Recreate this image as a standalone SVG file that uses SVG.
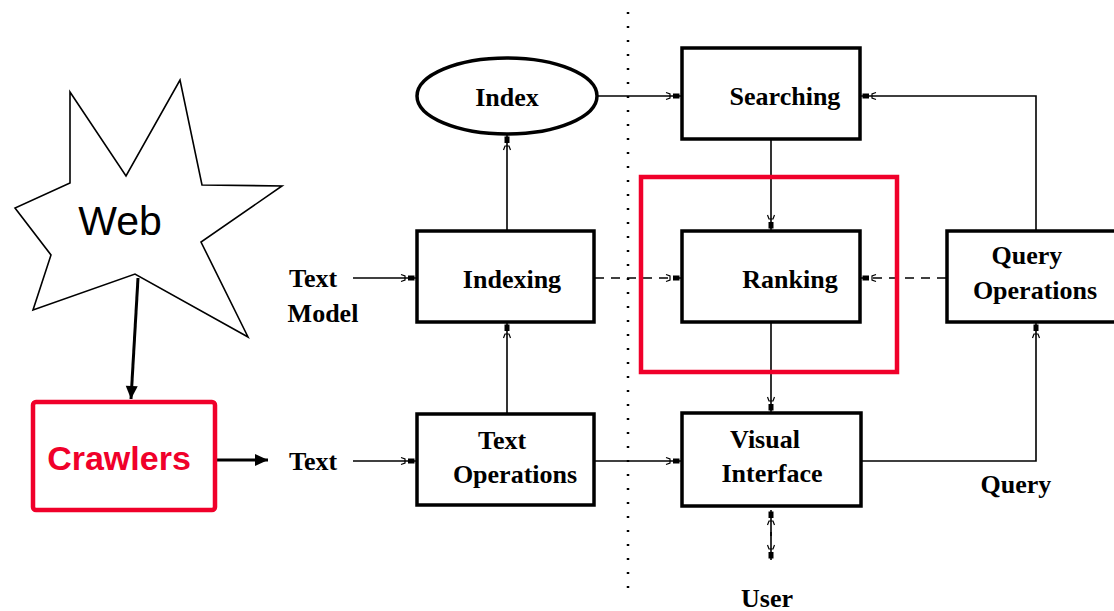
<svg xmlns="http://www.w3.org/2000/svg" width="1114" height="611" viewBox="0 0 1114 611">
<style>
.box{fill:#fff;stroke:#000;stroke-width:3.5}
.lbl{font-family:"Liberation Serif","Times New Roman",serif;font-weight:bold;font-size:26px;fill:#000;text-anchor:middle}
.ln{fill:none;stroke:#000;stroke-width:1.6}
.dash{fill:none;stroke:#000;stroke-width:1.6;stroke-dasharray:9,7}
</style>
<defs>
<marker id="a" markerUnits="userSpaceOnUse" markerWidth="20" markerHeight="12" viewBox="-18 -6 20 12" refX="0" refY="0" orient="auto">
<rect x="-8" y="-2.5" width="6.5" height="5" fill="#000"/>
<path d="M-15,-3.5 L-11,-2 L-11,2 L-15,3.5" fill="none" stroke="#000" stroke-width="1.2"/>
</marker>
<marker id="b" markerUnits="userSpaceOnUse" markerWidth="16" markerHeight="14" viewBox="-14 -7 16 14" refX="0" refY="0" orient="auto">
<path d="M-13,-6 L0,0 L-13,6 Z" fill="#000"/>
</marker>
</defs>
<!-- dotted divider -->
<line x1="628" y1="12" x2="628" y2="598" stroke="#000" stroke-width="2.5" stroke-dasharray="2,12"/>

<g id="connectors">
<line class="ln" x1="597" y1="96" x2="681" y2="96" marker-end="url(#a)"/>
<line class="ln" x1="507" y1="230" x2="507" y2="135" marker-end="url(#a)"/>
<line class="ln" x1="507" y1="413" x2="507" y2="323" marker-end="url(#a)"/>
<line class="ln" x1="353" y1="278" x2="416" y2="278" marker-end="url(#a)"/>
<line class="ln" x1="353" y1="461" x2="416" y2="461" marker-end="url(#a)"/>
<line class="dash" x1="595" y1="278" x2="681" y2="278" marker-end="url(#a)"/>
<line class="dash" x1="946" y1="278" x2="861" y2="278" marker-end="url(#a)"/>
<line class="ln" x1="771" y1="140" x2="771" y2="230" marker-end="url(#a)"/>
<line class="ln" x1="771" y1="323" x2="771" y2="412" marker-end="url(#a)"/>
<line class="ln" x1="595" y1="461" x2="681" y2="461" marker-end="url(#a)"/>
<polyline class="ln" points="862,461 1036,461 1036,323" marker-end="url(#a)"/>
<polyline class="ln" points="1036,230 1036,96 861,96" marker-end="url(#a)"/>
<line class="ln" x1="771" y1="536" x2="771" y2="510" marker-end="url(#a)"/>
<line class="ln" x1="771" y1="532" x2="771" y2="560" marker-end="url(#a)"/>
<line x1="138" y1="278" x2="131" y2="399" stroke="#000" stroke-width="3" marker-end="url(#b)"/>
<line x1="217" y1="460" x2="268" y2="460" stroke="#000" stroke-width="3" marker-end="url(#b)"/>
</g>

<g id="web">
<polygon points="70,92 126,176 180,80 202,185 282,186 201,242 248,337 135,274 33,310 51,255 15,208 70,183" fill="#fff" stroke="#000" stroke-width="1.6"/>
<text x="120" y="235" font-family="Liberation Sans,Arial,sans-serif" font-size="41" text-anchor="middle" fill="#000">Web</text>
</g>

<g id="crawlers">
<rect x="33" y="402" width="182" height="108" rx="3" fill="#fff" stroke="#f0002a" stroke-width="4.5"/>
<text x="119" y="470" font-family="Liberation Sans,Arial,sans-serif" font-weight="bold" font-size="34" text-anchor="middle" fill="#f0002a">Crawlers</text>
</g>

<g id="text-model">
<text class="lbl" x="313" y="287">Text</text>
<text class="lbl" x="323" y="322">Model</text>
</g>
<g id="text-in">
<text class="lbl" x="313" y="470">Text</text>
</g>

<g id="index">
<ellipse cx="507" cy="96" rx="90" ry="38" class="box"/>
<text class="lbl" x="507" y="106">Index</text>
</g>
<g id="searching">
<rect class="box" x="682" y="48" width="178" height="91"/>
<text class="lbl" x="785" y="105">Searching</text>
</g>
<g id="indexing">
<rect class="box" x="417" y="231" width="177" height="91"/>
<text class="lbl" x="512" y="288">Indexing</text>
</g>
<g id="ranking">
<rect class="box" x="682" y="231" width="178" height="91"/>
<text class="lbl" x="790" y="288">Ranking</text>
</g>
<g id="ranking-highlight">
<rect x="641" y="177" width="256" height="195" fill="none" stroke="#f0002a" stroke-width="4.5"/>
</g>
<g id="query-operations">
<rect class="box" x="947" y="231" width="180" height="91"/>
<text class="lbl" x="1027" y="264">Query</text>
<text class="lbl" x="1035" y="299">Operations</text>
</g>
<g id="text-operations">
<rect class="box" x="417" y="414" width="177" height="91"/>
<text class="lbl" x="502" y="449">Text</text>
<text class="lbl" x="515" y="483">Operations</text>
</g>
<g id="visual-interface">
<rect class="box" x="682" y="413" width="179" height="93"/>
<text class="lbl" x="765" y="448">Visual</text>
<text class="lbl" x="772" y="482">Interface</text>
</g>
<g id="labels">
<text class="lbl" x="1016" y="493">Query</text>
<text class="lbl" x="767" y="607">User</text>
</g>
</svg>
